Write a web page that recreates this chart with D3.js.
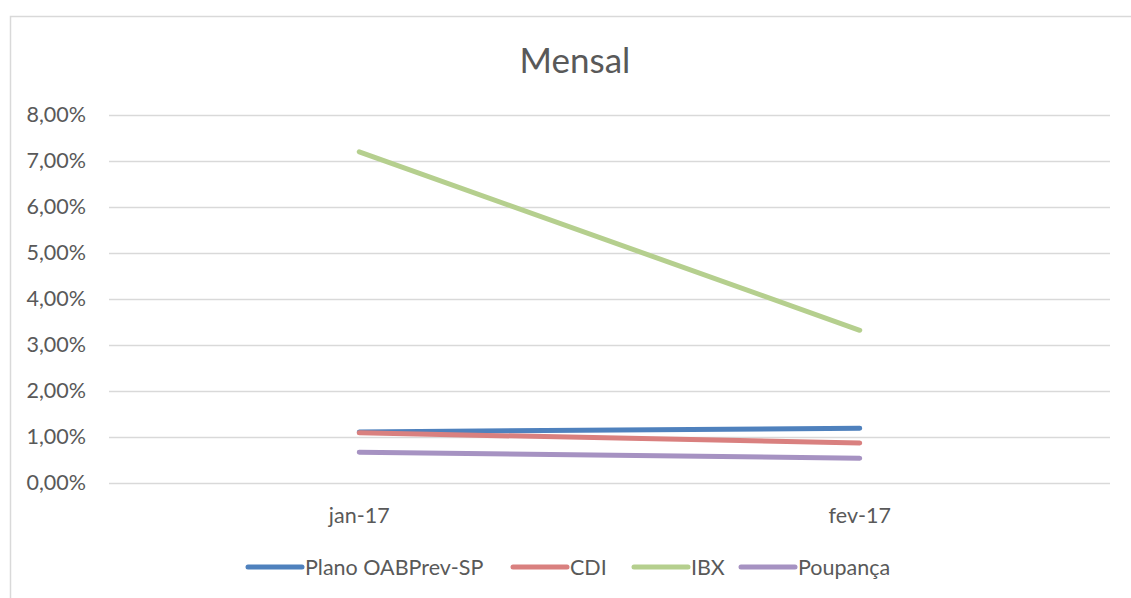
<!DOCTYPE html>
<html><head><meta charset="utf-8">
<script src="https://cdn.jsdelivr.net/npm/d3@7"></script>
<style>body{margin:0;background:#fff}svg{display:block}text{font-family:Lato,"Open Sans",sans-serif;fill:#595959}</style>
</head><body><svg id="c" width="1131" height="598"></svg>
<script>
const categories = ["jan-17", "fev-17"];
const seriesNames = ["Plano OABPrev-SP", "CDI", "IBX", "Poupança"];
const plano = [1.11, 1.19];
const cdi = [1.09, 0.87];
const ibx = [7.20, 3.32];
const poupanca = [0.67, 0.54];
const yTicks = [0, 1, 2, 3, 4, 5, 6, 7, 8];
const colors = ["#4f81bd", "#d9807f", "#b5cf8e", "#a692c2"];
const seriesValues = [plano, cdi, ibx, poupanca];

const svg = d3.select("#c");
svg.append("rect").attr("x",10.5).attr("y",16.5).attr("width",1130).attr("height",590)
  .attr("fill","#fff").attr("stroke","#d9d9d9").attr("stroke-width",1.5);

const pLeft = 109, pRight = 1110, pTop = 115, pBottom = 483;
const x = d3.scaleBand().domain(categories).range([pLeft, pRight]);
const y = d3.scaleLinear().domain([0, 8]).range([pBottom, pTop]);

svg.append("text").attr("x", 575).attr("y", 73).attr("text-anchor","middle")
  .style("font-size","35px").text("Mensal");

const ga = svg.append("g").attr("transform",`translate(${pLeft},0)`)
  .call(d3.axisLeft(y).tickValues(yTicks).tickSize(-(pRight-pLeft)).tickPadding(23)
    .tickFormat(d => d3.format(".2f")(d).replace(".", ",") + "%"));
ga.select(".domain").remove();
ga.selectAll("line").attr("stroke","#d9d9d9").attr("stroke-width",1.5);
ga.selectAll("text").style("font-size","21.5px").attr("fill","#595959");

const gx = svg.append("g").attr("transform",`translate(0,${pBottom})`)
  .call(d3.axisBottom(x).tickSize(0).tickPadding(25));
gx.select(".domain").remove();
gx.selectAll("text").style("font-size","21.5px").attr("fill","#595959");

const line = d3.line().x((d,i)=>x(categories[i])+x.bandwidth()/2).y(d=>y(d));
seriesValues.forEach((vals, k) => {
  svg.append("path").attr("d", line(vals)).attr("fill","none")
    .attr("stroke", colors[k]).attr("stroke-width",5).attr("stroke-linecap","round");
});

const legX = [248, 513, 634, 741];
const lg = svg.append("g");
seriesNames.forEach((n,k)=>{
  lg.append("line").attr("x1",legX[k]).attr("x2",legX[k]+54).attr("y1",567).attr("y2",567)
    .attr("stroke",colors[k]).attr("stroke-width",5).attr("stroke-linecap","round");
  lg.append("text").attr("x",legX[k]+57).attr("y",575).style("font-size","21.5px").text(n);
});
</script></body></html>
